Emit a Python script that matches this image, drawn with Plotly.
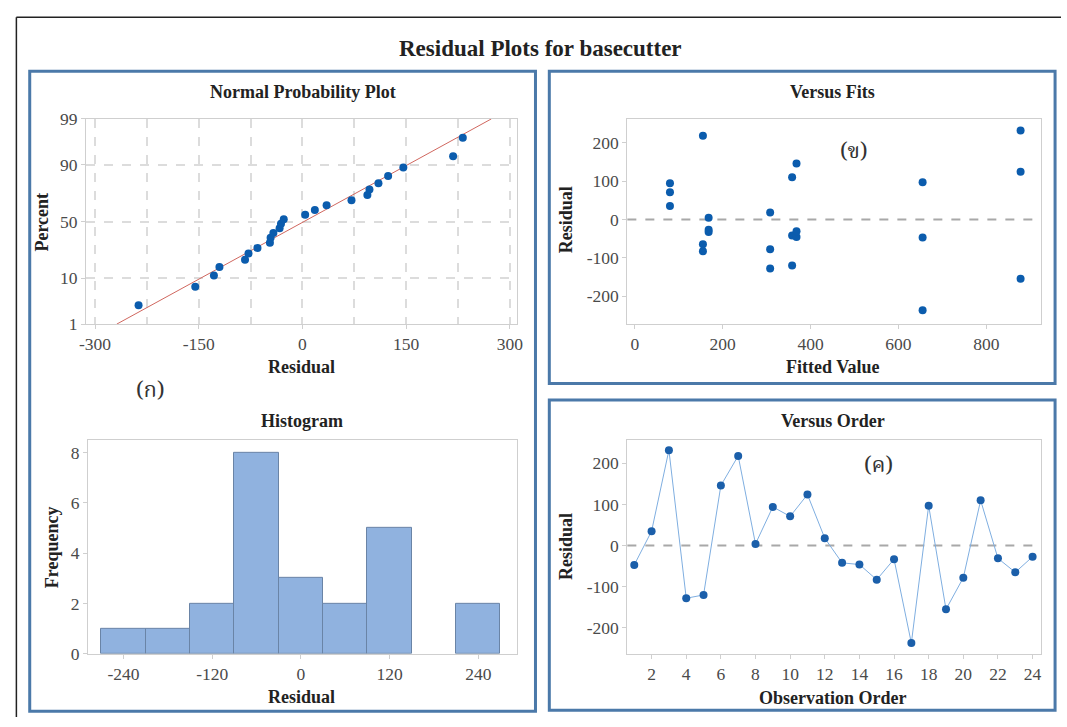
import numpy as np
import plotly.graph_objects as go
from statistics import NormalDist

# ---------------- data ----------------
observation = list(range(1, 25))
residuals = [-47, 35, 232, -128, -120, 146, 218, 4, 94, 71, 124, 18,
             -42, -46, -83, -33, -237, 97, -155, -78, 110, -31, -65, -27]
fitted = [655, 80, 878, 308, 358, 368, 155, 168, 80, 80, 878, 308,
          358, 368, 155, 168, 655, 655, 878, 308, 358, 368, 155, 168]
percent_ticks = [1, 10, 50, 90, 99]
npp_ticks = [-300, -150, 0, 150, 300]
fits_xticks = [0, 200, 400, 600, 800]
resid_ticks = [-200, -100, 0, 100, 200]
hist_ticks = [-240, -120, 0, 120, 240]
freq_ticks = [0, 2, 4, 6, 8]
order_ticks = [2, 4, 6, 8, 10, 12, 14, 16, 18, 20, 22, 24]

W, H = 1067, 727
nd = NormalDist()

def px(x):
    return x / W

def py(y):
    return 1 - y / H

def lab(v):
    return [str(t) for t in v]  # plain hyphen-minus as in the reference

SERIF = "Liberation Serif, Times New Roman, serif"
TICKC = "#4a4a4a"
FRAME = "#cfcfcf"
DOT = "#0B5CAD"
BORDER = "#4B79A9"

fig = go.Figure()

# ---- normal probability plot ----
n = len(residuals)
srt = sorted(residuals)
z_pts = [nd.inv_cdf((i + 1 - 0.3) / (n + 0.4)) for i in range(n)]
mu = float(np.mean(residuals))
sd = float(np.std(residuals, ddof=1))
z_lo, z_hi = nd.inv_cdf(0.01), nd.inv_cdf(0.99)
fig.add_trace(go.Scatter(x=[mu + sd * z_lo, mu + sd * z_hi], y=[z_lo, z_hi],
                         mode="lines", line=dict(color="#D0675F", width=1),
                         xaxis="x", yaxis="y", showlegend=False, hoverinfo="skip"))
fig.add_trace(go.Scatter(x=srt, y=z_pts, mode="markers",
                         marker=dict(color=DOT, size=8),
                         xaxis="x", yaxis="y", showlegend=False))

# ---- versus fits ----
fig.add_trace(go.Scatter(x=fitted, y=residuals, mode="markers",
                         marker=dict(color=DOT, size=8),
                         xaxis="x2", yaxis="y2", showlegend=False))

# ---- histogram ----
fig.add_trace(go.Histogram(x=residuals, xbins=dict(start=-270, end=270, size=60),
                           marker=dict(color="#90B2DF", line=dict(color="#6A84A6", width=1)),
                           xaxis="x3", yaxis="y3", showlegend=False))

# ---- versus order ----
fig.add_trace(go.Scatter(x=observation, y=residuals, mode="lines+markers",
                         line=dict(color="#7FAEE0", width=1),
                         marker=dict(color="#1B5FAA", size=8),
                         xaxis="x4", yaxis="y4", showlegend=False))

tickfont = dict(family=SERIF, size=17.5, color=TICKC)

def axis_common(**kw):
    d = dict(showline=True, linecolor=FRAME, linewidth=1, mirror=True,
             zeroline=False, tickfont=tickfont, ticks="outside", ticklen=4,
             tickcolor=FRAME, showgrid=False, fixedrange=True)
    d.update(kw)
    return d

layout = dict(
    width=W, height=H, margin=dict(l=0, r=0, t=0, b=0),
    paper_bgcolor="white", plot_bgcolor="white", bargap=0,
    xaxis=axis_common(domain=[px(80), px(516)], range=[-313, 310], anchor="y",
                      tickvals=npp_ticks, ticktext=lab(npp_ticks),
                      showgrid=True, gridcolor="#dcdcdc", griddash="dash", gridwidth=1.5,
                      minor=dict(dtick=75, tick0=0, showgrid=True, gridcolor="#dcdcdc",
                                 griddash="dash", gridwidth=1.5, ticks="")),
    yaxis=axis_common(domain=[py(323), py(112)], range=[z_lo, z_hi], anchor="x",
                      tickvals=[nd.inv_cdf(p / 100) for p in percent_ticks],
                      ticktext=lab(percent_ticks),
                      showgrid=True, gridcolor="#dcdcdc", griddash="dash", gridwidth=1.5),
    xaxis2=axis_common(domain=[px(628), px(1047)], range=[-17, 925], anchor="y2",
                       tickvals=fits_xticks, ticktext=lab(fits_xticks)),
    yaxis2=axis_common(domain=[py(323), py(112)], range=[-273, 262], anchor="x2",
                       tickvals=resid_ticks, ticktext=lab(resid_ticks)),
    xaxis3=axis_common(domain=[px(82), px(516)], range=[-288, 292], anchor="y3",
                       tickvals=hist_ticks, ticktext=lab(hist_ticks)),
    yaxis3=axis_common(domain=[py(662), py(442)], range=[0, 8.5], anchor="x3",
                       tickvals=freq_ticks, ticktext=lab(freq_ticks)),
    xaxis4=axis_common(domain=[px(628), px(1047)], range=[0.6, 24.5], anchor="y4",
                       tickvals=order_ticks, ticktext=lab(order_ticks)),
    yaxis4=axis_common(domain=[py(662), py(442)], range=[-263, 257], anchor="x4",
                       tickvals=resid_ticks, ticktext=lab(resid_ticks)),
)
fig.update_layout(**layout)

# zero reference lines
for xr, yr in [("x2 domain", "y2"), ("x4 domain", "y4")]:
    fig.add_shape(type="line", xref=xr, yref=yr, x0=0, x1=1, y0=0, y1=0,
                  line=dict(color="#A8A8A8", width=2, dash="dash"), layer="below")

# borders
fig.add_shape(type="line", xref="paper", yref="paper", x0=px(9.5), x1=1.0,
              y0=py(7.5), y1=py(7.5), line=dict(color="#222222", width=1.5))
fig.add_shape(type="line", xref="paper", yref="paper", x0=px(9.5), x1=px(9.5),
              y0=py(7.5), y1=0, line=dict(color="#222222", width=1.5))
for (x0, y0, x1, y1) in [(23, 63, 535, 721), (549, 63, 1061, 384), (549, 401, 1061, 720)]:
    fig.add_shape(type="rect", xref="paper", yref="paper",
                  x0=px(x0), x1=px(x1), y0=py(y0), y1=py(y1),
                  line=dict(color=BORDER, width=3))

def text(x, y, s, size=18, bold=True, angle=0, family=SERIF, color="#222222"):
    fig.add_annotation(x=px(x), y=py(y), xref="paper", yref="paper", text=(f"<b>{s}</b>" if bold else s),
                       showarrow=False, textangle=angle, xanchor="center", yanchor="middle",
                       font=dict(family=family, size=size, color=color))

text(540, 40, "Residual Plots for basecutter", size=23)
text(300, 84, "Normal Probability Plot")
text(836, 84, "Versus Fits")
text(299, 423, "Histogram")
text(836, 423, "Versus Order")
text(298, 367, "Residual")
text(836, 367, "Fitted Value")
text(298, 706, "Residual")
text(836, 707, "Observation Order")
text(35, 218, "Percent", angle=-90)
text(566, 216, "Residual", angle=-90)
text(45, 552, "Frequency", angle=-90)
text(566, 552, "Residual", angle=-90)

THAI = "Noto Serif Thai, Noto Sans Thai, Loma, Garuda, DejaVu Sans, sans-serif"
text(145, 392, "(ก)", size=22, bold=False, family=THAI, color="#333333")
text(857, 147, "(ข)", size=22, bold=False, family=THAI, color="#333333")
text(882, 469, "(ค)", size=22, bold=False, family=THAI, color="#333333")

fig.write_html("out.html")
